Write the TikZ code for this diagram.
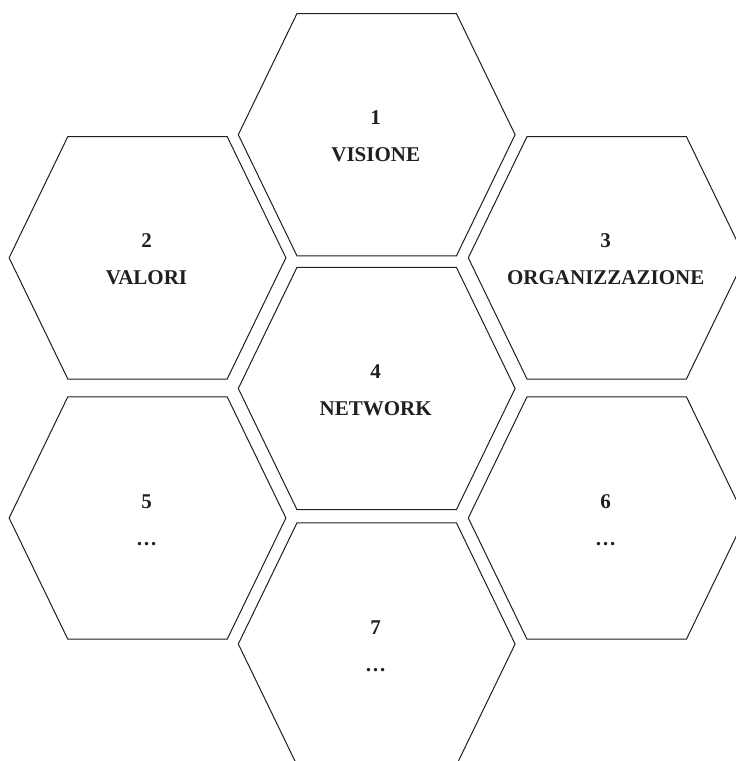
\documentclass[tikz,border=0pt]{standalone}
\usepackage{fontspec}
\setmainfont{Liberation Serif}
\begin{document}
\begin{tikzpicture}[x=1pt,y=-1pt,
  hexline/.style={draw=black!88,line width=1pt,line join=miter},
  lbl/.style={font=\fontsize{21}{25}\selectfont\bfseries,text=black!88,anchor=base,inner sep=0pt}]
\useasboundingbox (0,0) rectangle (736,761);
\clip (0,0) rectangle (736,761);
\def\ha{138.4}\def\hb{79.7}\def\hh{121.2}
\foreach \n/\cx/\cy/\num/\word in {
  1/376.7/134.7/1/VISIONE,
  4/376.7/388.5/4/NETWORK,
  7/376.7/644/7/…,
  2/147.5/257.8/2/VALORI,
  5/147.5/518/5/…,
  3/606.7/257.8/3/ORGANIZZAZIONE,
  6/606.7/518/6/…}{
  \draw[hexline] (\cx-\hb,\cy-\hh) -- (\cx+\hb,\cy-\hh) -- (\cx+\ha,\cy)
     -- (\cx+\hb,\cy+\hh) -- (\cx-\hb,\cy+\hh) -- (\cx-\ha,\cy) -- cycle;
  \node[lbl] (num\n) at (\cx-1,\cy-10) {\num};
  \node[lbl] (word\n) at (\cx-1,\cy+27) {\word};
}
\end{tikzpicture}
\end{document}
